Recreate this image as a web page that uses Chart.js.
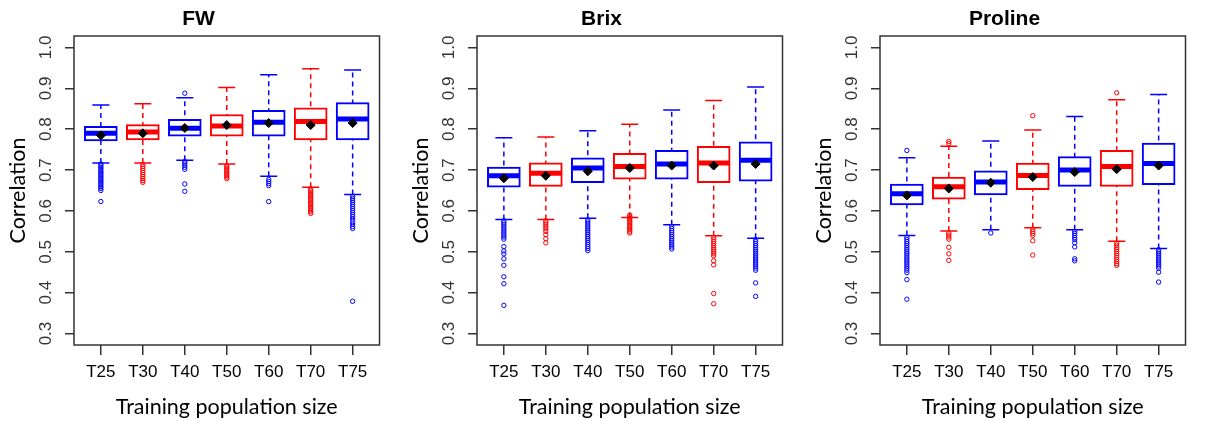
<!DOCTYPE html>
<html lang="en">
<head>
    <meta charset="UTF-8">
    <title>Correlation by training population size</title>
    <script src="https://cdn.jsdelivr.net/npm/chart.js@4.4.1/dist/chart.umd.min.js"></script>
    <style>
        body { margin: 0; background: #fff; }
        .panel { position: absolute; top: 0; width: 400px; height: 421px; }
    </style>
</head>
<body>
    <div class="panel" style="left:0"><canvas id="fw" width="400" height="421"></canvas></div>
    <div class="panel" style="left:403px"><canvas id="brix" width="400" height="421"></canvas></div>
    <div class="panel" style="left:806px"><canvas id="proline" width="400" height="421"></canvas></div>

    <script>
        // categories and tick labels
        const categories = ['T25', 'T30', 'T40', 'T50', 'T60', 'T70', 'T75'];
        const boxColors = ['#0000ff', '#ff0000', '#0000ff', '#ff0000', '#0000ff', '#ff0000', '#0000ff'];
        const yTicks = [0.3, 0.4, 0.5, 0.6, 0.7, 0.8, 0.9, 1.0];

        // FW
        const fwHighCap = [0.859, 0.862, 0.877, 0.902, 0.933, 0.948, 0.945];
        const fwQ3      = [0.807, 0.811, 0.824, 0.836, 0.846, 0.852, 0.865];
        const fwMedian  = [0.790, 0.793, 0.802, 0.808, 0.817, 0.819, 0.825];
        const fwQ1      = [0.771, 0.774, 0.783, 0.783, 0.783, 0.774, 0.774];
        const fwMean    = [0.785, 0.790, 0.803, 0.810, 0.815, 0.810, 0.815];
        const fwLowCap  = [0.717, 0.717, 0.724, 0.715, 0.685, 0.658, 0.640];
        const fwOutliers = [
            [0.715, 0.711, 0.707, 0.703, 0.699, 0.695, 0.691, 0.687, 0.683, 0.679, 0.675, 0.671, 0.667, 0.663, 0.659, 0.655, 0.650, 0.623],
            [0.714, 0.709, 0.704, 0.699, 0.694, 0.689, 0.684, 0.679, 0.674, 0.670],
            [0.888, 0.721, 0.717, 0.712, 0.707, 0.702, 0.666, 0.648],
            [0.711, 0.707, 0.703, 0.699, 0.695, 0.691, 0.687, 0.683, 0.679],
            [0.677, 0.672, 0.667, 0.662, 0.623],
            [0.654, 0.650, 0.646, 0.642, 0.638, 0.634, 0.630, 0.626, 0.622, 0.618, 0.614, 0.610, 0.606, 0.602, 0.598, 0.594],
            [0.636, 0.631, 0.626, 0.621, 0.616, 0.611, 0.606, 0.601, 0.596, 0.591, 0.586, 0.580, 0.574, 0.568, 0.562, 0.557, 0.379]
        ];

        // Brix
        const brixHighCap = [0.779, 0.781, 0.796, 0.812, 0.847, 0.870, 0.903];
        const brixQ3      = [0.707, 0.718, 0.730, 0.741, 0.748, 0.758, 0.769];
        const brixMedian  = [0.686, 0.692, 0.705, 0.709, 0.715, 0.717, 0.724];
        const brixQ1      = [0.658, 0.660, 0.669, 0.678, 0.678, 0.669, 0.673];
        const brixMean    = [0.680, 0.686, 0.697, 0.705, 0.711, 0.711, 0.715];
        const brixLowCap  = [0.579, 0.579, 0.582, 0.584, 0.566, 0.539, 0.533];
        const brixOutliers = [
            [0.576, 0.571, 0.566, 0.561, 0.556, 0.551, 0.546, 0.541, 0.536, 0.531, 0.513, 0.502, 0.495, 0.483, 0.467, 0.439, 0.422, 0.369],
            [0.576, 0.571, 0.566, 0.561, 0.556, 0.550, 0.542, 0.532, 0.522],
            [0.578, 0.573, 0.568, 0.563, 0.558, 0.553, 0.548, 0.543, 0.538, 0.533, 0.528, 0.523, 0.518, 0.513, 0.508, 0.503],
            [0.590, 0.586, 0.582, 0.578, 0.574, 0.570, 0.566, 0.562, 0.558, 0.554, 0.550, 0.546],
            [0.562, 0.557, 0.552, 0.547, 0.542, 0.537, 0.532, 0.527, 0.522, 0.517, 0.512, 0.507],
            [0.535, 0.530, 0.525, 0.520, 0.515, 0.510, 0.505, 0.500, 0.495, 0.490, 0.478, 0.468, 0.398, 0.373],
            [0.530, 0.525, 0.520, 0.515, 0.510, 0.505, 0.500, 0.495, 0.490, 0.485, 0.480, 0.475, 0.470, 0.465, 0.460, 0.455, 0.424, 0.391]
        ];

        // Proline
        const prolineHighCap = [0.730, 0.758, 0.771, 0.798, 0.831, 0.872, 0.885];
        const prolineQ3      = [0.666, 0.683, 0.698, 0.717, 0.733, 0.748, 0.766];
        const prolineMedian  = [0.642, 0.659, 0.671, 0.687, 0.700, 0.709, 0.716];
        const prolineQ1      = [0.615, 0.629, 0.639, 0.652, 0.660, 0.660, 0.664];
        const prolineMean    = [0.638, 0.655, 0.669, 0.683, 0.695, 0.702, 0.711];
        const prolineLowCap  = [0.540, 0.551, 0.554, 0.559, 0.554, 0.526, 0.508];
        const prolineOutliers = [
            [0.748, 0.535, 0.530, 0.525, 0.520, 0.515, 0.510, 0.505, 0.500, 0.495, 0.490, 0.485, 0.480, 0.475, 0.470, 0.465, 0.460, 0.455, 0.449, 0.432, 0.384],
            [0.770, 0.765, 0.546, 0.541, 0.536, 0.531, 0.511, 0.495, 0.479],
            [0.546],
            [0.833, 0.555, 0.550, 0.545, 0.540, 0.527, 0.492],
            [0.550, 0.545, 0.540, 0.535, 0.530, 0.522, 0.512, 0.483, 0.478],
            [0.889, 0.521, 0.516, 0.511, 0.506, 0.501, 0.496, 0.491, 0.486, 0.481, 0.476, 0.471, 0.467],
            [0.505, 0.500, 0.495, 0.490, 0.485, 0.480, 0.475, 0.470, 0.465, 0.460, 0.450, 0.426]
        ];

        // box around the plot region, like R's box()
        const frame = {
            id: 'frame',
            beforeDatasetsDraw(chart) {
                const a = chart.chartArea, ctx = chart.ctx;
                ctx.save();
                ctx.strokeStyle = '#333';
                ctx.lineWidth = 1.5;
                ctx.strokeRect(a.left, a.top, a.right - a.left, a.bottom - a.top);
                ctx.restore();
            }
        };

        function makePanel(id, title, lowCap, q1, median, q3, highCap, mean, outliers) {
            const xs = categories.map((c, i) => i + 1);
            const datasets = [];

            // dashed whiskers, drawn under the boxes
            xs.forEach((x, i) => {
                datasets.push({
                    type: 'line',
                    data: [{ x: x, y: lowCap[i] }, { x: x, y: highCap[i] }],
                    borderColor: boxColors[i],
                    borderWidth: 1.5,
                    borderDash: [5, 4],
                    pointRadius: 0,
                    order: 6
                });
            });

            datasets.push({
                type: 'bar',
                data: xs.map((x, i) => ({ x: x, y: [q1[i], q3[i]] })),
                backgroundColor: '#fff',
                borderColor: boxColors,
                borderWidth: 2,
                borderSkipped: false,
                barThickness: 33,
                order: 5
            });

            // whisker caps
            datasets.push({
                type: 'scatter',
                data: xs.flatMap((x, i) => [{ x: x, y: lowCap[i] }, { x: x, y: highCap[i] }]),
                pointStyle: 'line',
                pointRadius: 8.5,
                borderWidth: 1.5,
                borderColor: xs.flatMap((x, i) => [boxColors[i], boxColors[i]]),
                order: 4
            });

            // outliers
            const outPts = [], outCols = [];
            outliers.forEach((list, i) => list.forEach(v => {
                outPts.push({ x: xs[i], y: v });
                outCols.push(boxColors[i]);
            }));
            datasets.push({
                type: 'scatter',
                data: outPts,
                pointStyle: 'circle',
                pointRadius: 2.2,
                borderWidth: 1,
                borderColor: outCols,
                backgroundColor: 'rgba(255,255,255,0)',
                order: 3
            });

            // medians
            datasets.push({
                type: 'scatter',
                data: xs.map((x, i) => ({ x: x, y: median[i] })),
                pointStyle: 'line',
                pointRadius: 15.5,
                borderWidth: 5,
                borderColor: boxColors,
                order: 2
            });

            // means
            datasets.push({
                type: 'scatter',
                data: xs.map((x, i) => ({ x: x, y: mean[i] })),
                pointStyle: 'rectRot',
                pointRadius: 4.5,
                backgroundColor: '#000',
                borderColor: '#000',
                borderWidth: 1,
                order: 1
            });

            new Chart(document.getElementById(id), {
                type: 'bar',
                data: { datasets: datasets },
                plugins: [frame],
                options: {
                    responsive: false,
                    animation: false,
                    layout: { padding: { left: 0, right: 3, top: 0, bottom: 0 } },
                    plugins: {
                        legend: { display: false },
                        tooltip: { enabled: false },
                        title: {
                            display: true,
                            text: title,
                            color: '#000',
                            font: { family: 'Liberation Sans, Arial, sans-serif', size: 21, weight: 'bold' },
                            padding: { top: 7, bottom: 3.8 }
                        }
                    },
                    scales: {
                        x: {
                            type: 'linear',
                            min: 0.36,
                            max: 7.64,
                            offset: false,
                            afterBuildTicks: s => { s.ticks = xs.map(v => ({ value: v })); },
                            afterFit: s => { s.height = 76; },
                            grid: { drawOnChartArea: false, offset: false, tickLength: 10, color: '#333', lineWidth: 1.5 },
                            border: { display: false },
                            ticks: {
                                color: '#000',
                                padding: 7.5,
                                maxRotation: 0,
                                font: { family: 'Liberation Sans, Arial, sans-serif', size: 17 },
                                callback: v => categories[v - 1]
                            },
                            title: {
                                display: true,
                                text: 'Training population size',
                                color: '#000',
                                font: { family: 'Lato, sans-serif', size: 21.5 },
                                padding: { top: 0, bottom: 1 }
                            }
                        },
                        y: {
                            min: 0.272,
                            max: 1.028,
                            afterBuildTicks: s => { s.ticks = yTicks.map(v => ({ value: v })); },
                            afterFit: s => { s.width = 74; },
                            grid: { drawOnChartArea: false, tickLength: 9, color: '#333', lineWidth: 1.5 },
                            border: { display: false },
                            ticks: {
                                color: '#333',
                                padding: 6.5,
                                minRotation: 90,
                                maxRotation: 90,
                                crossAlign: 'center',
                                font: { family: 'Liberation Sans, Arial, sans-serif', size: 17 },
                                callback: v => v.toFixed(1)
                            },
                            title: {
                                display: true,
                                text: 'Correlation',
                                color: '#000',
                                font: { family: 'Lato, sans-serif', size: 21.5 },
                                padding: { top: 5, bottom: 0 }
                            }
                        }
                    }
                }
            });
        }

        makePanel('fw', 'FW', fwLowCap, fwQ1, fwMedian, fwQ3, fwHighCap, fwMean, fwOutliers);
        makePanel('brix', 'Brix', brixLowCap, brixQ1, brixMedian, brixQ3, brixHighCap, brixMean, brixOutliers);
        makePanel('proline', 'Proline', prolineLowCap, prolineQ1, prolineMedian, prolineQ3, prolineHighCap, prolineMean, prolineOutliers);
    </script>
</body>
</html>
